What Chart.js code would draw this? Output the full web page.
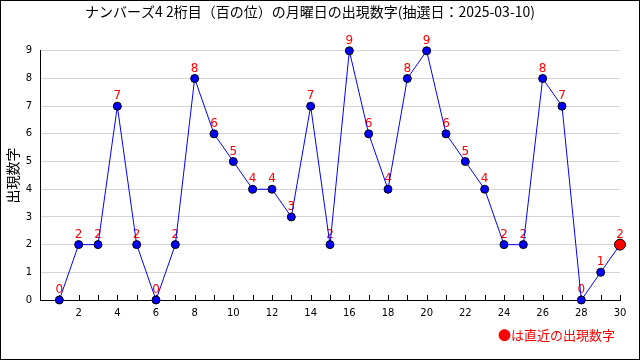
<!DOCTYPE html>
<html>
<head>
<meta charset="utf-8">
<script src="https://cdn.jsdelivr.net/npm/chart.js@4"></script>
<style>
  body { margin: 0; background: #fff; }
</style>
</head>
<body>
<canvas id="numChart" width="640" height="360"></canvas>
<script>
// 抽選回 (月曜日) と 百の位の数字
const days = [1,2,3,4,5,6,7,8,9,10,11,12,13,14,15,16,17,18,19,20,21,22,23,24,25,26,27,28,29,30];
const digits = [0,2,2,7,2,0,2,8,6,5,4,4,3,7,2,9,6,4,8,9,6,5,4,2,2,8,7,0,1,2];
const titleText = 'ナンバーズ4 2桁目（百の位）の月曜日の出現数字(抽選日：2025-03-10)';
const yTitle = '出現数字';
const noteText = '●は直近の出現数字';

const lastIdx = digits.length - 1;

// border around the whole picture + the note at bottom right
const frame = {
  id: 'frame',
  afterDraw(chart) {
    const c = chart.ctx;
    c.save();
    c.strokeStyle = '#000';
    c.lineWidth = 1;
    c.strokeRect(0.5, 0.5, chart.width - 1, chart.height - 1);
    c.fillStyle = '#ff0000';
    c.font = '13px "Noto Sans CJK JP"';
    c.textAlign = 'right';
    c.textBaseline = 'middle';
    c.fillText(noteText, chart.chartArea.right - 5, 335);
    c.restore();
  }
};

// small tick marks pointing up into the plot + red value labels
const marks = {
  id: 'marks',
  beforeDatasetsDraw(chart) {
    const c = chart.ctx;
    const xs = chart.scales.x;
    const y0 = chart.chartArea.bottom;
    c.save();
    c.strokeStyle = '#000';
    c.lineWidth = 1;
    c.beginPath();
    for (let d = 1; d <= 30; d++) {
      const px = Math.round(xs.getPixelForValue(d)) + 0.5;
      c.moveTo(px, y0);
      c.lineTo(px, y0 - 5);
    }
    c.stroke();

    const meta = chart.getDatasetMeta(0);
    c.fillStyle = '#ff0000';
    c.font = '12px "DejaVu Sans"';
    c.textAlign = 'center';
    c.textBaseline = 'bottom';
    meta.data.forEach((pt, i) => {
      c.fillText(String(digits[i]), pt.x, pt.y - 4);
    });
    c.restore();
  }
};

let chart = new Chart(document.getElementById('numChart'), {
  type: 'line',
  data: {
    datasets: [{
      data: days.map((d, i) => ({ x: d, y: digits[i] })),
      borderColor: '#0000ff',
      borderWidth: 1,
      tension: 0,
      pointBackgroundColor: digits.map((v, i) => i === lastIdx ? '#ff0000' : '#0000ff'),
      pointBorderColor: '#000000',
      pointBorderWidth: 1,
      pointRadius: digits.map((v, i) => i === lastIdx ? 5.5 : 4),
      clip: false
    }]
  },
  options: {
    responsive: false,
    devicePixelRatio: 1,
    animation: false,
    layout: {
      padding: { left: 0, right: 20, top: 0, bottom: 0 }
    },
    scales: {
      x: {
        type: 'linear',
        min: 0,
        max: 30,
        afterFit(scale) { scale.height = 60; },
        grid: { drawOnChartArea: false, drawTicks: false },
        border: { color: '#000', width: 1 },
        ticks: {
          stepSize: 1,
          autoSkip: false,
          maxRotation: 0,
          padding: 7,
          color: '#000',
          font: { family: '"DejaVu Sans"', size: 10 },
          callback: (v) => (v > 0 && v % 2 === 0) ? String(v) : ''
        }
      },
      y: {
        min: 0,
        max: 9,
        afterFit(scale) { scale.width = 40; },
        grid: { color: '#d4d4d4', drawTicks: false },
        border: { color: '#000', width: 1 },
        title: {
          display: true,
          text: yTitle,
          color: '#000',
          font: { family: '"Noto Sans CJK JP"', size: 14 },
          padding: { top: 4, bottom: 0 }
        },
        ticks: {
          stepSize: 1,
          padding: 8,
          color: '#000',
          font: { family: '"DejaVu Sans"', size: 10 }
        }
      }
    },
    plugins: {
      legend: { display: false },
      tooltip: { enabled: false },
      title: {
        display: true,
        text: titleText,
        color: '#000',
        font: { family: '"Noto Sans CJK JP"', size: 14, weight: 'normal' },
        padding: { top: 3, bottom: 31 }
      }
    }
  },
  plugins: [marks, frame]
});
</script>
</body>
</html>
